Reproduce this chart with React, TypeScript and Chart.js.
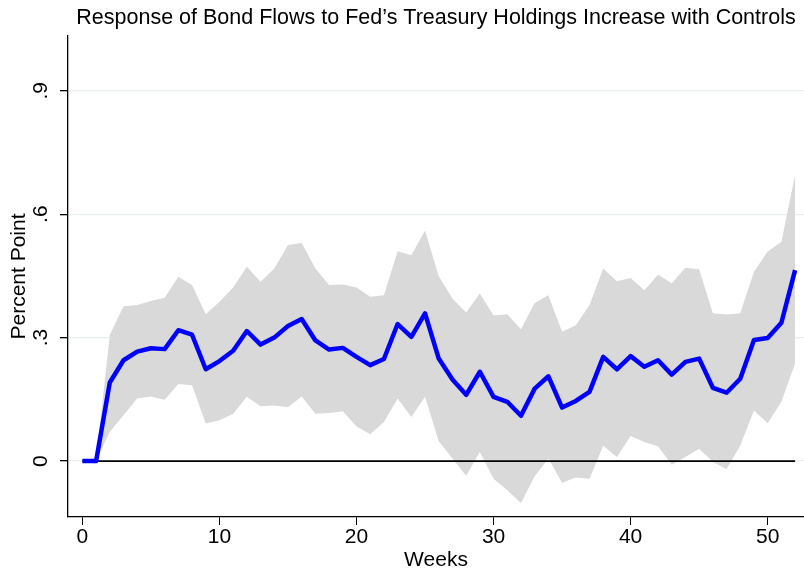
import React, { useEffect, useRef } from "react";
import { Chart, registerables } from "chart.js";

Chart.register(...registerables);

const weeks = [0, 1, 2, 3, 4, 5, 6, 7, 8, 9, 10, 11, 12, 13, 14, 15, 16, 17, 18, 19, 20, 21, 22, 23, 24, 25, 26, 27, 28, 29, 30, 31, 32, 33, 34, 35, 36, 37, 38, 39, 40, 41, 42, 43, 44, 45, 46, 47, 48, 49, 50, 51, 52];

const response = [0, 0, 0.191, 0.245, 0.266, 0.274, 0.272, 0.318, 0.307, 0.223, 0.243, 0.268, 0.316, 0.283, 0.3, 0.328, 0.345, 0.293, 0.271, 0.275, 0.253, 0.233, 0.248, 0.333, 0.302, 0.359, 0.249, 0.198, 0.161, 0.217, 0.156, 0.144, 0.11, 0.176, 0.206, 0.13, 0.146, 0.168, 0.253, 0.223, 0.255, 0.229, 0.245, 0.21, 0.241, 0.249, 0.178, 0.166, 0.2, 0.294, 0.299, 0.336, 0.464];

const upperBand = [0, 0, 0.307, 0.376, 0.379, 0.389, 0.397, 0.448, 0.428, 0.357, 0.387, 0.422, 0.472, 0.436, 0.468, 0.525, 0.53, 0.468, 0.428, 0.429, 0.422, 0.399, 0.403, 0.51, 0.5, 0.56, 0.449, 0.395, 0.361, 0.407, 0.354, 0.357, 0.32, 0.384, 0.403, 0.314, 0.33, 0.379, 0.468, 0.437, 0.445, 0.415, 0.453, 0.432, 0.47, 0.466, 0.359, 0.356, 0.359, 0.46, 0.509, 0.533, 0.695];

const lowerBand = [0, 0, 0.071, 0.111, 0.152, 0.157, 0.149, 0.187, 0.184, 0.091, 0.099, 0.115, 0.156, 0.133, 0.135, 0.131, 0.157, 0.115, 0.117, 0.121, 0.084, 0.065, 0.095, 0.152, 0.107, 0.156, 0.048, 0.006, -0.036, 0.022, -0.043, -0.071, -0.102, -0.037, 0.006, -0.053, -0.04, -0.043, 0.037, 0.01, 0.061, 0.046, 0.036, -0.009, 0.01, 0.03, -0.002, -0.02, 0.038, 0.123, 0.092, 0.144, 0.237];

const zeroLine = [0, 0];
const zeroLineWeeks = [0, 52];

const xTicks = [0, 10, 20, 30, 40, 50];
const yTicks = [0, 0.3, 0.6, 0.9];
const yTickLabels = ["0", ".3", ".6", ".9"];

const titleText = "Response of Bond Flows to Fed\u2019s Treasury Holdings Increase with Controls";
const xTitle = "Weeks";
const yTitle = "Percent Point";

const FONT = "'Liberation Sans', Arial, Helvetica, sans-serif";

const yLabelPlugin = {
  id: "yLabelPlugin",
  afterDraw(chart: any) {
    const ctx = chart.ctx;
    const scale = chart.scales.y;
    ctx.save();
    ctx.fillStyle = "#000";
    ctx.font = `21px ${FONT}`;
    ctx.textAlign = "center";
    ctx.textBaseline = "middle";
    yTicks.forEach((v, i) => {
      const py = scale.getPixelForValue(v);
      ctx.save();
      ctx.translate(41, py);
      ctx.rotate(-Math.PI / 2);
      ctx.fillText(yTickLabels[i], 0, 0);
      ctx.restore();
    });
    ctx.restore();
  },
};

export default function App() {
  const ref = useRef<HTMLCanvasElement>(null);

  useEffect(() => {
    if (!ref.current) return;
    const pts = (xs: number[], ys: number[]) => xs.map((x, i) => ({ x, y: ys[i] }));
    const chart = new Chart(ref.current, {
      type: "line",
      data: {
        datasets: [
          {
            label: "IRF",
            data: pts(weeks, response),
            borderColor: "#0000FF",
            borderWidth: 4.5,
            pointRadius: 0,
            fill: false,
            tension: 0,
            order: 0,
            borderJoinStyle: "round",
          },
          {
            label: "zero",
            data: pts(zeroLineWeeks, zeroLine),
            borderColor: "#000000",
            borderWidth: 1.8,
            pointRadius: 0,
            fill: false,
            order: 1,
          },
          {
            label: "upper",
            data: pts(weeks, upperBand),
            borderColor: "rgba(0,0,0,0)",
            borderWidth: 0,
            backgroundColor: "#D9D9D9",
            pointRadius: 0,
            fill: "+1",
            order: 3,
          },
          {
            label: "lower",
            data: pts(weeks, lowerBand),
            borderColor: "rgba(0,0,0,0)",
            borderWidth: 0,
            pointRadius: 0,
            fill: false,
            order: 4,
          },
        ],
      },
      options: {
        animation: false,
        responsive: true,
        maintainAspectRatio: false,
        layout: { padding: 0 },
        plugins: {
          legend: { display: false },
          tooltip: { enabled: false },
          title: {
            display: true,
            text: titleText,
            fullSize: false,
            color: "#000",
            font: { family: FONT, size: 21.5, weight: "normal", lineHeight: 1.2 },
            padding: { top: 5, bottom: 5.2 },
          },
        },
        scales: {
          x: {
            type: "linear",
            min: -1.05,
            max: 52.65,
            afterFit: (s: any) => {
              s.height = 59;
            },
            afterBuildTicks: (s: any) => {
              s.ticks = xTicks.map((v) => ({ value: v }));
            },
            grid: {
              display: true,
              drawOnChartArea: false,
              drawTicks: true,
              tickLength: 8,
              color: "#000",
              tickColor: "#000",
              lineWidth: 1,
            },
            border: { display: true, color: "#000", width: 1.3 },
            ticks: {
              color: "#000",
              font: { family: FONT, size: 21 },
              padding: 0,
              maxRotation: 0,
              minRotation: 0,
              autoSkip: false,
              callback: (v: any) => String(v),
            },
            title: {
              display: true,
              text: xTitle,
              color: "#000",
              font: { family: FONT, size: 21, lineHeight: 1.2 },
              padding: { top: 0, bottom: 2.7 },
            },
          },
          y: {
            type: "linear",
            min: -0.136,
            max: 1.033,
            afterFit: (s: any) => {
              s.width = 68;
            },
            afterBuildTicks: (s: any) => {
              s.ticks = yTicks.map((v) => ({ value: v }));
            },
            grid: {
              display: true,
              drawOnChartArea: true,
              drawTicks: true,
              tickLength: 8,
              color: "#E9F0F2",
              tickColor: "#000",
              lineWidth: 1.3,
            },
            border: { display: true, color: "#000", width: 1.3 },
            ticks: {
              display: false,
            },
            title: {
              display: true,
              text: yTitle,
              color: "#000",
              font: { family: FONT, size: 21, lineHeight: 1.2 },
              padding: { top: 6.5, bottom: 0 },
            },
          },
        },
      },
      plugins: [yLabelPlugin],
    } as any);
    return () => chart.destroy();
  }, []);

  return (
    <div style={{ position: "absolute", left: 0, top: 0, width: 804, height: 576 }}>
      <canvas ref={ref} />
    </div>
  );
}
